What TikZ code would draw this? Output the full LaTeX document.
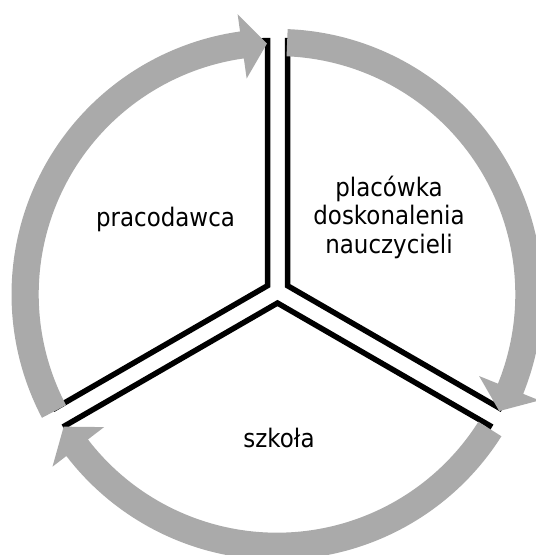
\documentclass[tikz,border=0pt]{standalone}
\usepackage{fontspec}
\setmainfont{DejaVu Sans}[FakeStretch=0.9]
\definecolor{ringgray}{RGB}{170,170,170}

% one grey arc arrow of the cycle, running clockwise around (C)
% #1 tail angle, #2 angle of the head's base, #3 angle of the tip
\newcommand\ringarrow[3]{%
  \fill[cyclearrow]
    ([shift={(C)}]#1:265.5) arc[start angle=#1, end angle=#2, radius=265.5]
    -- ([shift={(C)}]#2:283) -- ([shift={(C)}]#3:251) -- ([shift={(C)}]#2:218)
    -- ([shift={(C)}]#2:238.3) arc[start angle=#2, end angle=#1, radius=238.3]
    -- cycle;}

\begin{document}
\begin{tikzpicture}[x=1pt, y=1pt,
    wedge/.style={draw=black, fill=white, line width=5.5pt},
    cyclearrow/.style={fill=ringgray, draw=none},
    lbl/.style={font=\fontsize{25.5}{28.3}\selectfont, inner sep=0pt,
                align=center, anchor=base, text=black}]
  \useasboundingbox (0,0) rectangle (536,555);

  % centres of the ring and of the three segments
  \coordinate (C) at (277,260.6);
  \coordinate (Stl) at (267.5,269.3);
  \coordinate (Str) at (287.5,269.3);
  \coordinate (Sb)  at (277.5,251.95);

  % three pie segments, slightly pulled apart
  \draw[wedge] (Stl) -- ++(90:245)  arc[start angle=90,  end angle=210, radius=245] -- cycle;
  \draw[wedge] (Str) -- ++(-30:245) arc[start angle=-30, end angle=90,  radius=245] -- cycle;
  \draw[wedge] (Sb)  -- ++(210:245) arc[start angle=210, end angle=330, radius=245] -- cycle;

  % the cycle of arrows on top of the segment rims
  \ringarrow{207.7}{98.0}{92.3}
  \ringarrow{87.7}{-22.0}{-27.7}
  \ringarrow{-32.3}{-142.5}{-148.2}

  % segment labels (base anchor sits on the last line)
  \node[lbl] (employer) at (165.5,328.3) {pracodawca};
  \node[lbl] (trainer)  at (389,301.7) {placówka\\doskonalenia\\nauczycieli};
  \node[lbl] (school)   at (279,107.7) {szkoła};
\end{tikzpicture}
\end{document}
